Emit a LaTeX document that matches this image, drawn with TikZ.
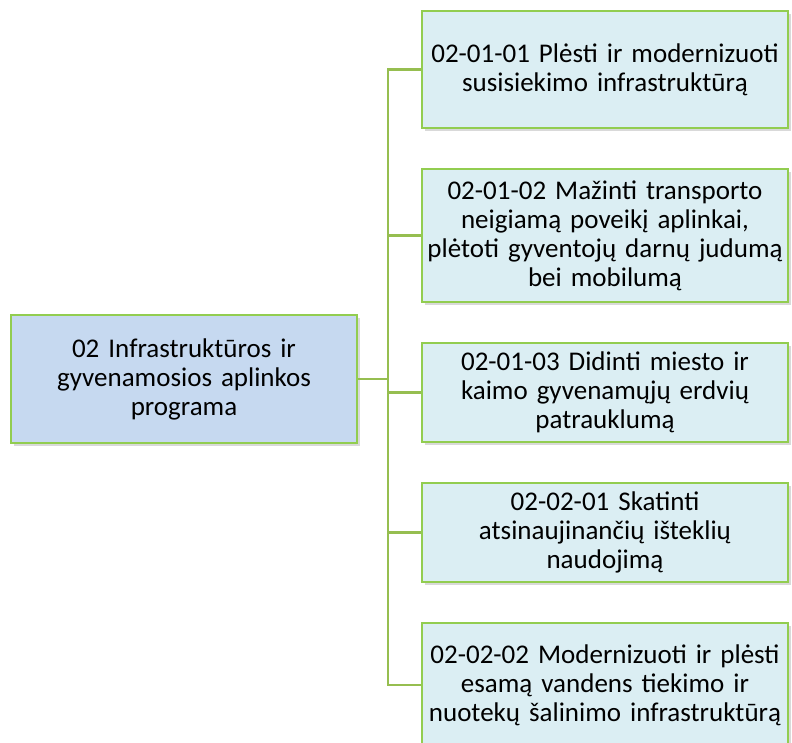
\documentclass[tikz,border=0pt]{standalone}
\usepackage{fontspec}
\setmainfont[WordSpace=0.75]{Carlito}
\usetikzlibrary{shadows}
\definecolor{mainfill}{RGB}{198,217,240}
\definecolor{subfill}{RGB}{219,238,243}
\definecolor{boxline}{RGB}{146,205,80}
\definecolor{conline}{RGB}{150,190,80}
\tikzset{
  basebox/.style={draw=boxline, line width=1.8pt, align=center, inner sep=0pt,
    font=\fontsize{27}{29}\selectfont,
    drop shadow={opacity=0.3, shadow xshift=2.5pt, shadow yshift=-3pt}},
  mainbox/.style={basebox, fill=mainfill, minimum width=346pt, text width=340pt},
  subbox/.style={basebox, fill=subfill, minimum width=366pt, text width=364pt},
  conn/.style={draw=conline, line width=2.2pt}
}
\begin{document}
\begin{tikzpicture}[x=1pt,y=1pt]
\useasboundingbox (0,0) rectangle (792,-743);
\node[mainbox, minimum height=128pt] (main) at (184,-379)
  {02 Infrastruktūros ir\\gyvenamosios aplinkos\\programa};
\node[subbox, minimum height=117pt] (b1) at (605,-69.5)
  {02-01-01 Plėsti ir modernizuoti\\susisiekimo infrastruktūrą};
\node[subbox, minimum height=133pt] (b2) at (605,-235.5)
  {02-01-02 Mažinti transporto\\neigiamą poveikį aplinkai,\\plėtoti gyventojų darnų judumą\\bei mobilumą};
\node[subbox, minimum height=99pt] (b3) at (605,-392.5)
  {02-01-03 Didinti miesto ir\\kaimo gyvenamųjų erdvių\\patrauklumą};
\node[subbox, minimum height=99pt] (b4) at (605,-532.5)
  {02-02-01 Skatinti\\atsinaujinančių išteklių\\naudojimą};
\node[subbox, minimum height=124pt] (b5) at (605,-685)
  {02-02-02 Modernizuoti ir plėsti\\esamą vandens tiekimo ir\\nuotekų šalinimo infrastruktūrą};
\coordinate (spine) at (388,-379);
\draw[conn] (main.east) -- (spine);
\draw[conn] (b1.west) -| (spine);
\draw[conn] (b5.west) -| (spine);
\draw[conn] (b2.west) -- (b2.west -| spine);
\draw[conn] (b3.west) -- (b3.west -| spine);
\draw[conn] (b4.west) -- (b4.west -| spine);
\end{tikzpicture}
\end{document}
